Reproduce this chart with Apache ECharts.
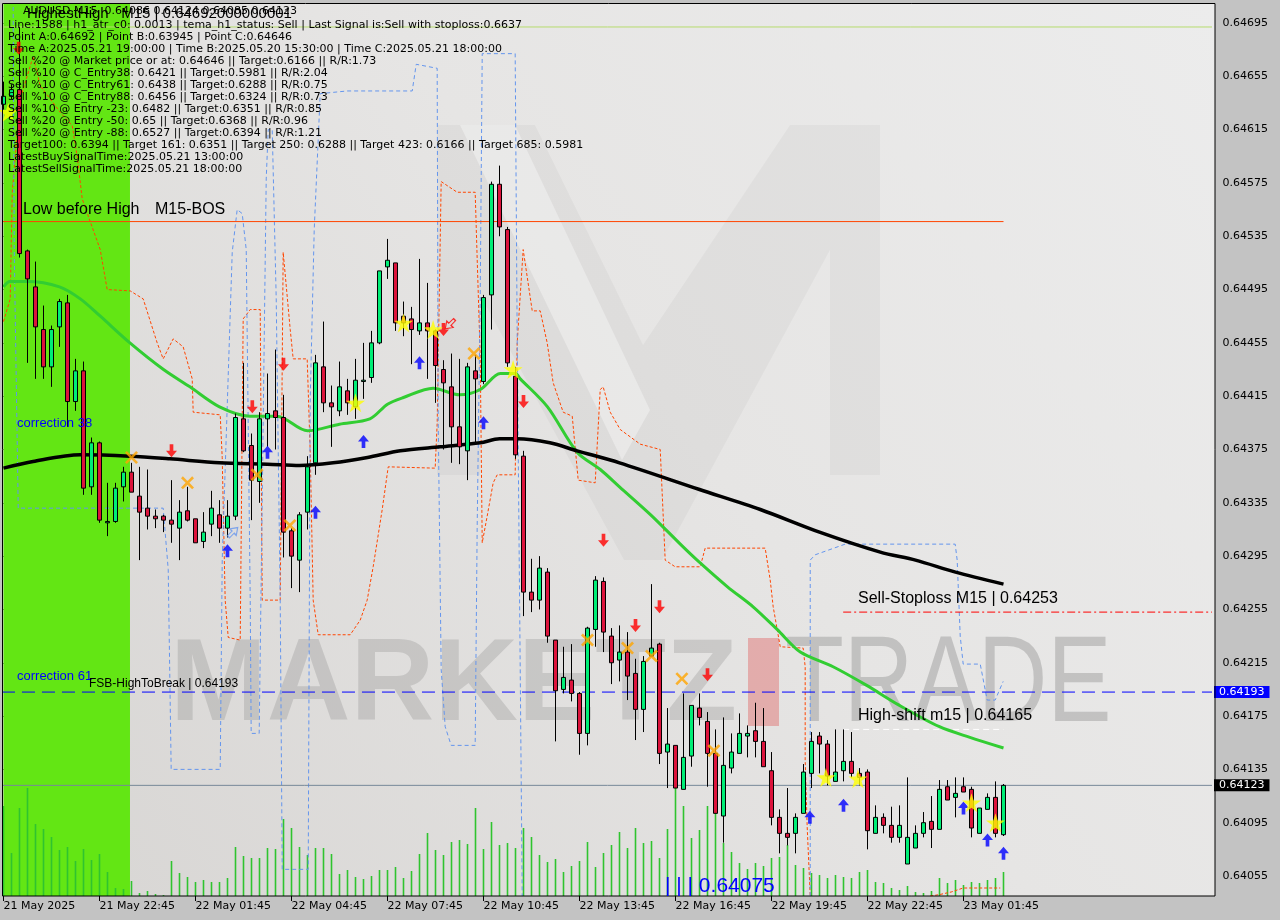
<!DOCTYPE html>
<html><head><meta charset="utf-8">
<script src="https://cdn.jsdelivr.net/npm/echarts@6.0.0/dist/echarts.min.js"></script>
<style>html,body{margin:0;padding:0;background:#c3c3c3;}#c{width:1280px;height:920px;}</style>
</head><body><div id="c"></div>
<script>
// ---------- DATA ----------
const xTickLabels = ["21 May 2025","21 May 22:45","22 May 01:45","22 May 04:45","22 May 07:45","22 May 10:45","22 May 13:45","22 May 16:45","22 May 19:45","22 May 22:45","23 May 01:45"];
const yTicks = [0.64695,0.64655,0.64615,0.64575,0.64535,0.64495,0.64455,0.64415,0.64375,0.64335,0.64295,0.64255,0.64215,0.64175,0.64135,0.64095,0.64055];

const open = [0.64634,0.64640,0.64645,0.64524,0.64497,0.64465,0.64437,0.64467,0.64485,0.64411,0.64434,0.64347,0.64380,0.64320,0.64321,0.64347,0.64358,0.64340,0.64331,0.64325,0.64325,0.64322,0.64316,0.64329,0.64323,0.64306,0.64319,0.64326,0.64316,0.64325,0.64398,0.64378,0.64351,0.64398,0.64404,0.64399,0.64314,0.64292,0.64328,0.64365,0.64437,0.64410,0.64404,0.64419,0.64407,0.64426,0.64429,0.64455,0.64512,0.64515,0.64475,0.64473,0.64464,0.64470,0.64464,0.64435,0.64422,0.64392,0.64374,0.64434,0.64426,0.64491,0.64574,0.64540,0.64430,0.64370,0.64268,0.64262,0.64283,0.64232,0.64195,0.64202,0.64192,0.64162,0.64240,0.64276,0.64235,0.64217,0.64223,0.64207,0.64180,0.64220,0.64229,0.64148,0.64153,0.64120,0.64145,0.64181,0.64171,0.64147,0.64100,0.64136,0.64147,0.64160,0.64164,0.64156,0.64134,0.64099,0.64087,0.64087,0.64102,0.64132,0.64160,0.64154,0.64126,0.64134,0.64141,0.64132,0.64133,0.64087,0.64099,0.64093,0.64084,0.64064,0.64076,0.64087,0.64096,0.64090,0.64122,0.64114,0.64122,0.64120,0.64087,0.64105,0.64114,0.64086];
const close = [0.64640,0.64645,0.64522,0.64503,0.64467,0.64437,0.64465,0.64486,0.64411,0.64434,0.64346,0.64380,0.64322,0.64321,0.64346,0.64358,0.64343,0.64328,0.64325,0.64323,0.64322,0.64319,0.64328,0.64322,0.64305,0.64313,0.64331,0.64316,0.64325,0.64399,0.64374,0.64352,0.64398,0.64402,0.64399,0.64313,0.64295,0.64326,0.64362,0.64440,0.64410,0.64407,0.64422,0.64410,0.64427,0.64427,0.64455,0.64509,0.64517,0.64470,0.64470,0.64465,0.64470,0.64464,0.64438,0.64425,0.64392,0.64377,0.64437,0.64428,0.64489,0.64574,0.64542,0.64440,0.64371,0.64268,0.64262,0.64286,0.64235,0.64194,0.64204,0.64192,0.64162,0.64241,0.64277,0.64238,0.64215,0.64223,0.64205,0.64180,0.64216,0.64226,0.64147,0.64154,0.64121,0.64144,0.64183,0.64174,0.64147,0.64102,0.64138,0.64148,0.64162,0.64162,0.64156,0.64137,0.64099,0.64087,0.64084,0.64099,0.64133,0.64156,0.64154,0.64130,0.64133,0.64141,0.64132,0.64129,0.64089,0.64099,0.64093,0.64084,0.64093,0.64084,0.64087,0.64095,0.64090,0.64120,0.64112,0.64117,0.64118,0.64091,0.64106,0.64114,0.64087,0.64123];
const low = [0.64630,0.64638,0.64519,0.64440,0.64428,0.64428,0.64422,0.64452,0.64392,0.64404,0.64341,0.64341,0.64320,0.64310,0.64320,0.64336,0.64343,0.64292,0.64315,0.64316,0.64313,0.64305,0.64292,0.64321,0.64305,0.64301,0.64310,0.64305,0.64309,0.64322,0.64373,0.64322,0.64335,0.64377,0.64375,0.64294,0.64271,0.64268,0.64315,0.64356,0.64403,0.64377,0.64400,0.64401,0.64398,0.64413,0.64425,0.64454,0.64503,0.64464,0.64460,0.64439,0.64461,0.64428,0.64410,0.64375,0.64365,0.64364,0.64352,0.64380,0.64424,0.64465,0.64535,0.64437,0.64368,0.64250,0.64253,0.64255,0.64230,0.64156,0.64192,0.64186,0.64146,0.64153,0.64227,0.64223,0.64199,0.64201,0.64187,0.64157,0.64163,0.64220,0.64139,0.64121,0.64121,0.64120,0.64137,0.64168,0.64122,0.64102,0.64080,0.64132,0.64147,0.64144,0.64144,0.64137,0.64093,0.64072,0.64078,0.64072,0.64102,0.64121,0.64132,0.64123,0.64126,0.64126,0.64129,0.64123,0.64075,0.64087,0.64087,0.64080,0.64080,0.64064,0.64076,0.64084,0.64076,0.64090,0.64112,0.64099,0.64118,0.64084,0.64087,0.64105,0.64084,0.64085];
const high = [0.64651,0.64649,0.64692,0.64525,0.64516,0.64483,0.64468,0.64488,0.64491,0.64443,0.64441,0.64384,0.64381,0.64350,0.64350,0.64362,0.64365,0.64362,0.64360,0.64330,0.64326,0.64352,0.64337,0.64347,0.64323,0.64328,0.64344,0.64337,0.64337,0.64402,0.64440,0.64387,0.64403,0.64432,0.64450,0.64416,0.64316,0.64328,0.64370,0.64446,0.64471,0.64423,0.64441,0.64428,0.64443,0.64455,0.64464,0.64509,0.64533,0.64515,0.64486,0.64482,0.64518,0.64500,0.64465,0.64442,0.64447,0.64443,0.64440,0.64446,0.64491,0.64576,0.64588,0.64542,0.64437,0.64374,0.64293,0.64295,0.64286,0.64232,0.64227,0.64229,0.64193,0.64242,0.64280,0.64279,0.64241,0.64243,0.64238,0.64218,0.64220,0.64274,0.64230,0.64181,0.64153,0.64192,0.64183,0.64192,0.64178,0.64165,0.64174,0.64162,0.64177,0.64168,0.64185,0.64181,0.64148,0.64105,0.64121,0.64102,0.64139,0.64163,0.64163,0.64157,0.64165,0.64165,0.64163,0.64136,0.64135,0.64108,0.64102,0.64107,0.64108,0.64129,0.64093,0.64103,0.64115,0.64127,0.64127,0.64129,0.64129,0.64122,0.64106,0.64117,0.64126,0.64124];
const volume = [90,43,88,108,72,67,59,46,49,35,47,36,42,24,8,7,15,3,5,2,1,35,23,19,14,16,14,14,18,49,40,38,38,48,47,77,68,49,41,48,48,42,22,26,19,17,20,26,26,29,18,25,42,63,46,41,54,56,52,88,47,74,51,53,48,68,59,41,34,37,24,30,35,54,29,43,51,64,48,68,53,55,38,67,109,90,58,66,90,83,53,44,33,27,33,30,38,39,51,31,28,23,21,18,21,19,18,24,26,14,13,8,6,10,4,3,5,18,13,16,11,14,13,16,18,24];

// moving averages read at selected bars [barIndex, price]
const greenMA = [[0,0.64497],[0.8,0.64501],[3,0.64501],[7,0.64497],[9.6,0.64488],[12.1,0.64475],[15.8,0.64455],[20,0.64435],[23.3,0.64422],[27,0.64407],[30.8,0.64400],[34.2,0.64400],[38,0.64389],[42,0.64394],[45.8,0.64398],[48,0.64409],[50,0.64414],[53.7,0.64421],[57,0.64416],[59.6,0.64420],[62.1,0.64432],[64,0.64432],[64.6,0.64428],[68,0.64407],[71.7,0.64373],[74.6,0.64360],[77,0.64347],[80.9,0.64326],[84.6,0.64304],[86.7,0.64292],[90.5,0.64272],[93.7,0.64257],[96.7,0.64240],[99.6,0.64223],[103.7,0.64212],[107.9,0.64198],[112,0.64183],[117,0.64167],[120.8,0.64159],[125,0.64151]];
const blackMA = [[0,0.64361],[3.7,0.64366],[9.6,0.64371],[15.8,0.64370],[20.8,0.64368],[27,0.64365],[33,0.64364],[37,0.64363],[41.2,0.64365],[45.5,0.64369],[49.6,0.64374],[54.6,0.64377],[59.6,0.64380],[62,0.64383],[64.2,0.64383],[68.3,0.64380],[71.7,0.64374],[77,0.64365],[87,0.64345],[94.6,0.64330],[102,0.64313],[109.6,0.64298],[114,0.64292],[119,0.64283],[125,0.64274]];
const orangeBand = [[0,0.64471],[0.84,0.64488],[1.09,0.64568],[2.09,0.64638],[3.71,0.64670],[4.59,0.64648],[7.09,0.64628],[8.59,0.64618],[9.21,0.64595],[9.84,0.64563],[10.84,0.64546],[12.09,0.64525],[12.96,0.64495],[15.84,0.64494],[17.46,0.64488],[19.21,0.64455],[19.96,0.64443],[21.21,0.64458],[22.46,0.64452],[23.59,0.64428],[23.71,0.64403],[27.09,0.64401],[27.34,0.64369],[27.71,0.64262],[28.09,0.64234],[29.59,0.64232],[29.96,0.64473],[30.84,0.64480],[32.09,0.64480],[32.34,0.64262],[34.59,0.64262],[34.96,0.64523],[35.84,0.64465],[36.21,0.64443],[37.96,0.64443],[38.34,0.64373],[38.71,0.64262],[39.34,0.64236],[43.34,0.64236],[44.59,0.64247],[45.46,0.64262],[46.21,0.64287],[47.34,0.64330],[48.09,0.64362],[53.96,0.64361],[54.21,0.64395],[54.71,0.64576],[56.71,0.64568],[58.96,0.64568],[59.21,0.64518],[59.59,0.64445],[59.84,0.64305],[60.46,0.64325],[61.21,0.64350],[61.71,0.64356],[63.96,0.64356],[64.21,0.64455],[64.96,0.64525],[66.09,0.64479],[67.09,0.64479],[67.96,0.64455],[68.71,0.64425],[69.96,0.64403],[71.09,0.64400],[71.84,0.64352],[73.96,0.64350],[74.59,0.64420],[74.96,0.64422],[75.84,0.64403],[77.09,0.64390],[79.59,0.64379],[82.09,0.64375],[82.71,0.64292],[83.96,0.64287],[87.09,0.64287],[87.71,0.64301],[95.21,0.64301],[95.84,0.64277],[96.21,0.64257],[96.71,0.64240],[97.09,0.64227],[99.96,0.64226],[100.21,0.64212],[100.21,0.64142],[100.46,0.64092],[100.84,0.64040],[108,'-'],[115.84,0.64040],[116.96,0.64041],[118.46,0.64043],[119.96,0.64046],[124.59,0.64046]];
const blueBand = [[1.21,0.64707],[1.34,0.64525],[1.84,0.64331],[19.96,0.64331],[20.59,0.64285],[20.96,0.64135],[27.09,0.64135],[27.34,0.64292],[28.59,0.64523],[29.21,0.64555],[29.84,0.64552],[30.34,0.64525],[30.84,0.64262],[30.96,0.64162],[31.96,0.64162],[32.34,0.64337],[32.84,0.64578],[33.09,0.64615],[33.59,0.64615],[34.09,0.64488],[34.59,0.64262],[34.84,0.64060],[38.09,0.64060],[38.34,0.64413],[38.84,0.64540],[39.59,0.64642],[42.96,0.64644],[51.09,0.64644],[51.59,0.64664],[54.21,0.64661],[54.34,0.64395],[54.71,0.64210],[55.21,0.64167],[55.96,0.64153],[58.96,0.64153],[59.21,0.64317],[59.59,0.64490],[59.84,0.64672],[63.96,0.64672],[64.21,0.64460],[64.59,0.64210],[64.84,0.64040],[80,'-'],[100.84,0.64040],[100.84,0.64292],[101.46,0.64296],[105.21,0.64304],[118.96,0.64304],[119.21,0.64292],[119.59,0.64235],[119.96,0.64214],[122.09,0.64214],[122.96,0.64187],[123.96,0.64187],[124.96,0.64201]];

// signal markers [barIndex, price]
const redDownArrows = [[1.9,0.64676],[21,0.64374],[31.1,0.64407],[35,0.64439],[55,0.64465],[65,0.64411],[75,0.64307],[79,0.64243],[82,0.64257],[88,0.64206]];
const blueUpArrows = [[28,0.64299],[33,0.64373],[39,0.64328],[45,0.64381],[52,0.64440],[60,0.64395],[100.8,0.64099],[105,0.64108],[120,0.64106],[123,0.64082],[125,0.64072]];
const yellowStars = [[0.6,0.64628],[44,0.64410],[50,0.64470],[53.7,0.64465],[63.7,0.64435],[102.8,0.64129],[106.8,0.64128],[121,0.64110],[124,0.64095]];
const orangeCrosses = [[16,0.64369],[23,0.64350],[31.7,0.64356],[35.8,0.64318],[58.8,0.64447],[73,0.64232],[78,0.64226],[81,0.64220],[84.8,0.64203],[88.8,0.64149]];
const hollowBlue = [[28.7,0.64313]];
const hollowRed = [[55.8,0.64469]];

// levels
const lowBeforeHigh = 0.64546;
const highestHigh = 0.64692;
const fsbHighToBreak = 0.64193;
const sellStoploss = 0.64253;
const highShift = 0.64165;
const lastPrice = 0.64123;

const infoLines = [
 "Line:1588 | h1_atr_c0: 0.0013 | tema_h1_status: Sell | Last Signal is:Sell with stoploss:0.6637",
 "Point A:0.64692 | Point B:0.63945 | Point C:0.64646",
 "Time A:2025.05.21 19:00:00 | Time B:2025.05.20 15:30:00 | Time C:2025.05.21 18:00:00",
 "Sell %20 @ Market price or at: 0.64646 || Target:0.6166 || R/R:1.73",
 "Sell %10 @ C_Entry38: 0.6421 || Target:0.5981 || R/R:2.04",
 "Sell %10 @ C_Entry61: 0.6438 || Target:0.6288 || R/R:0.75",
 "Sell %10 @ C_Entry88: 0.6456 || Target:0.6324 || R/R:0.73",
 "Sell %10 @ Entry -23: 0.6482 || Target:0.6351 || R/R:0.85",
 "Sell %20 @ Entry -50: 0.65 || Target:0.6368 || R/R:0.96",
 "Sell %20 @ Entry -88: 0.6527 || Target:0.6394 || R/R:1.21",
 "Target100: 0.6394 || Target 161: 0.6351 || Target 250: 0.6288 || Target 423: 0.6166 || Target 685: 0.5981",
 "LatestBuySignalTime:2025.05.21 13:00:00",
 "LatestSellSignalTime:2025.05.21 18:00:00"
];

// ---------- CHART ----------
const SLOTS = 152;
const categories = Array.from({length: SLOTS}, (_, i) => 'bar' + i);
const LAST = open.length - 1;
const X_LEFT = -0.19, X_RIGHT = 151.44;
const candleData = open.map((o, i) => [o, close[i], low[i], high[i]]);

const chart = echarts.init(document.getElementById('c'), null, {renderer: 'canvas'});
const AX_FONT = 'DejaVu Sans';
const TX_FONT = 'Liberation Sans, Arial, sans-serif';

function hline(y, x0, x1, color, type, z, endLabel) {
  const s = {
    type: 'line', xAxisIndex: 1, yAxisIndex: 0, clip: false, silent: true, z: z,
    symbol: 'none', data: [[x0, y], [x1, y]],
    lineStyle: {color: color, width: 1, type: type}
  };
  if (endLabel) s.endLabel = endLabel;
  return s;
}
function mk(data, symbol, size, color, z, rotate, border) {
  return {
    type: 'scatter', xAxisIndex: 1, yAxisIndex: 0, silent: true, z: z,
    data: data, symbol: symbol, symbolSize: size, symbolRotate: rotate || 0,
    itemStyle: border ? {color: 'rgba(0,0,0,0)', borderColor: color, borderWidth: 1.2} : {color: color}
  };
}
const ARROW_DOWN = 'path://M4,0 L8,0 L8,7 L12,7 L6,14 L0,7 L4,7 Z';
const ARROW_UP = 'path://M6,0 L12,7 L8,7 L8,14 L4,14 L4,7 L0,7 Z';
const STAR = 'path://M50,0 L61,35 L98,35 L68,57 L79,91 L50,70 L21,91 L32,57 L2,35 L39,35 Z';
const CROSS = 'path://M2,0 L7,5 L12,0 L14,2 L9,7 L14,12 L12,14 L7,9 L2,14 L0,12 L5,7 L0,2 Z';

const texts = infoLines.map((t, i) => ({
  type: 'text', left: 8, top: 19.5 + i * 12, z: 100, silent: true,
  style: {text: t, font: '11px DejaVu Sans', fill: '#000'}
}));

const option = {
  animation: false,
  backgroundColor: '#c3c3c3',
  grid: {left: 3.5, right: 68.5, top: 3, bottom: 24, containLabel: false},
  xAxis: [{
    type: 'category', data: categories, boundaryGap: false,
    axisLine: {show: false},
    axisTick: {show: true, length: 5, interval: (i) => i % 12 === 0 && i <= LAST, lineStyle: {color: '#000'}},
    axisLabel: {interval: (i) => i % 12 === 0 && i <= LAST, align: 'left', margin: 5,
      fontFamily: AX_FONT, fontSize: 11, color: '#000',
      formatter: (v, i) => xTickLabels[i / 12] || ''},
    splitLine: {show: false}
  }, {
    type: 'value', min: 0, max: SLOTS - 1, show: false
  }],
  yAxis: [{
    type: 'value', position: 'right', min: 0.64040, max: 0.64710, offset: 4, scale: true,
    axisLine: {show: false}, splitLine: {show: false},
    axisTick: {show: true, length: 4, customValues: yTicks, lineStyle: {color: '#000'}},
    axisLabel: {customValues: yTicks, margin: 7, fontFamily: AX_FONT, fontSize: 11, color: '#000',
      formatter: (v) => v.toFixed(5)}
  }, {
    type: 'value', min: 0, max: 893, show: false
  }],
  graphic: [
    {type: 'rect', z: -20, silent: true, shape: {x: 2, y: 3, width: 1213, height: 893},
      style: {fill: new echarts.graphic.LinearGradient(0, 1, 1, 0, [
        {offset: 0, color: '#d7d5d3'}, {offset: 0.55, color: '#e6e5e4'}, {offset: 1, color: '#ececec'}])}},
    // watermark logo "M"
    {type: 'polygon', z: -15, silent: true, shape: {points: [[437,125],[535,125],[643,345],[790,125],[880,125],[880,475],[830,475],[830,250],[662,560],[624,560],[480,295],[480,475],[437,475]]},
      style: {fill: 'rgba(0,0,0,0.03)'}},
    {type: 'polygon', z: -14, silent: true, shape: {points: [[460,125],[515,125],[650,410],[622,460]]},
      style: {fill: 'rgba(255,255,255,0.35)'}},
    {type: 'text', z: -12, silent: true, x: 170, y: 630,
      style: {text: 'MARKETZ', font: 'bold 116px Liberation Sans, Arial, sans-serif', fill: 'rgba(110,110,110,0.22)'}},
    {type: 'rect', z: -12, silent: true, shape: {x: 748, y: 638, width: 31, height: 88},
      style: {fill: 'rgba(225,95,95,0.42)'}},
    {type: 'text', z: -12, silent: true, x: 785, y: 626, scaleX: 0.79, scaleY: 1,
      style: {text: 'TRADE', font: '122px Liberation Sans, Arial, sans-serif', fill: 'rgba(110,110,110,0.30)'}},
    // frame
    {type: 'rect', z: 60, silent: true, shape: {x: 2.5, y: 3.5, width: 1212.5, height: 892.5},
      style: {fill: 'none', stroke: '#000', lineWidth: 1}},
    // header texts
    {type: 'text', left: 23, top: 6, z: 100, silent: true,
      style: {text: 'AUDUSD,M15  0.64086 0.64124 0.64085 0.64123', font: '11px DejaVu Sans', fill: '#000'}},
    {type: 'text', left: 27, top: 6, z: 101, silent: true,
      style: {text: 'HighestHigh   M15 | 0.64692000000001', font: '15px ' + TX_FONT, fill: '#000'}},
    ...texts,
    {type: 'text', left: 23, top: 202, z: 100, silent: true,
      style: {text: 'Low before High', font: '16px ' + TX_FONT, fill: '#000'}},
    {type: 'text', left: 155, top: 202, z: 100, silent: true,
      style: {text: 'M15-BOS', font: '16px ' + TX_FONT, fill: '#000'}},
    {type: 'text', left: 17, top: 417, z: 100, silent: true,
      style: {text: 'correction 38', font: '13px ' + TX_FONT, fill: '#0000ff'}},
    {type: 'text', left: 17, top: 670, z: 100, silent: true,
      style: {text: 'correction 61', font: '13px ' + TX_FONT, fill: '#0000ff'}},
    {type: 'text', left: 89, top: 678, z: 100, silent: true,
      style: {text: 'FSB-HighToBreak | 0.64193', font: '12px ' + TX_FONT, fill: '#000'}},
    {type: 'text', left: 858, top: 591, z: 100, silent: true,
      style: {text: 'Sell-Stoploss M15 | 0.64253', font: '16px ' + TX_FONT, fill: '#000'}},
    {type: 'text', left: 858, top: 708, z: 100, silent: true,
      style: {text: 'High-shift m15 | 0.64165', font: '16px ' + TX_FONT, fill: '#000'}},
    {type: 'text', left: 665, top: 876, z: 100, silent: true,
      style: {text: '| | | 0.64075', font: '21px ' + TX_FONT, fill: '#0000ff'}}
  ],
  series: [
    // green session highlight
    {type: 'line', xAxisIndex: 1, yAxisIndex: 0, silent: true, z: 0, symbol: 'none',
      data: [[X_LEFT, 0.6404], [15.81, 0.6404]], lineStyle: {opacity: 0},
      markArea: {silent: true, itemStyle: {color: '#63e614'},
        data: [[{xAxis: X_LEFT, yAxis: 0.6404}, {xAxis: 15.81, yAxis: 0.6471}]]}},
    // volumes
    {type: 'bar', xAxisIndex: 0, yAxisIndex: 1, data: volume, barWidth: 1.6, silent: true, z: 1,
      itemStyle: {color: '#2fc42f', opacity: 1}},
    // bands
    {type: 'line', xAxisIndex: 1, yAxisIndex: 0, data: orangeBand, symbol: 'none', silent: true, z: 2,
      lineStyle: {color: '#ff4500', width: 1, type: [3, 2]}},
    {type: 'line', xAxisIndex: 1, yAxisIndex: 0, data: blueBand, symbol: 'none', silent: true, z: 2,
      lineStyle: {color: '#6495ed', width: 1, type: [4, 3]}},
    // level lines
    hline(highestHigh, X_LEFT, X_RIGHT, '#b6dc6e', 'solid', 2),
    hline(lowBeforeHigh, X_LEFT, LAST, '#ff4500', 'solid', 3),
    hline(sellStoploss, 104.96, X_RIGHT, '#ff0000', [8, 3, 2, 3], 3),
    hline(highShift, 104.96, LAST, '#ffffff', [6, 4], 3),
    hline(fsbHighToBreak, X_LEFT, X_RIGHT, '#0000ff', [13, 7], 3,
      {show: true, formatter: '0.64193', distance: 2, backgroundColor: '#0000ff', color: '#fff',
        padding: [1, 5, 0, 5], fontFamily: AX_FONT, fontSize: 11}),
    hline(lastPrice, X_LEFT, X_RIGHT, '#778899', 'solid', 3,
      {show: true, formatter: '0.64123', distance: 2, backgroundColor: '#000', color: '#fff',
        padding: [1, 5, 0, 5], fontFamily: AX_FONT, fontSize: 11}),
    // moving averages
    {type: 'line', xAxisIndex: 1, yAxisIndex: 0, data: greenMA, smooth: 0.3, symbol: 'none', silent: true, z: 3,
      lineStyle: {color: '#32cd32', width: 3}},
    {type: 'line', xAxisIndex: 1, yAxisIndex: 0, data: blackMA, smooth: 0.3, symbol: 'none', silent: true, z: 3,
      lineStyle: {color: '#000', width: 3.5}},
    // candles
    {type: 'candlestick', xAxisIndex: 0, yAxisIndex: 0, data: candleData, barWidth: 5, silent: true, z: 4,
      itemStyle: {color: '#00ee76', color0: '#dc143c', borderColor: '#000', borderColor0: '#000', borderWidth: 1}},
    // markers
    mk(redDownArrows, ARROW_DOWN, [11, 13], '#ff0000', 6),
    mk(blueUpArrows, ARROW_UP, [11, 13], '#0000ff', 6),
    mk(yellowStars, STAR, 19, '#ffff00', 7),
    mk(orangeCrosses, CROSS, 13, '#ffa500', 6),
    mk(hollowBlue, ARROW_UP, [9, 13], '#6495ed', 6, -45, true),
    mk(hollowRed, ARROW_DOWN, [9, 13], '#ff0000', 6, -45, true)
  ]
};
chart.setOption(option);
</script></body></html>
